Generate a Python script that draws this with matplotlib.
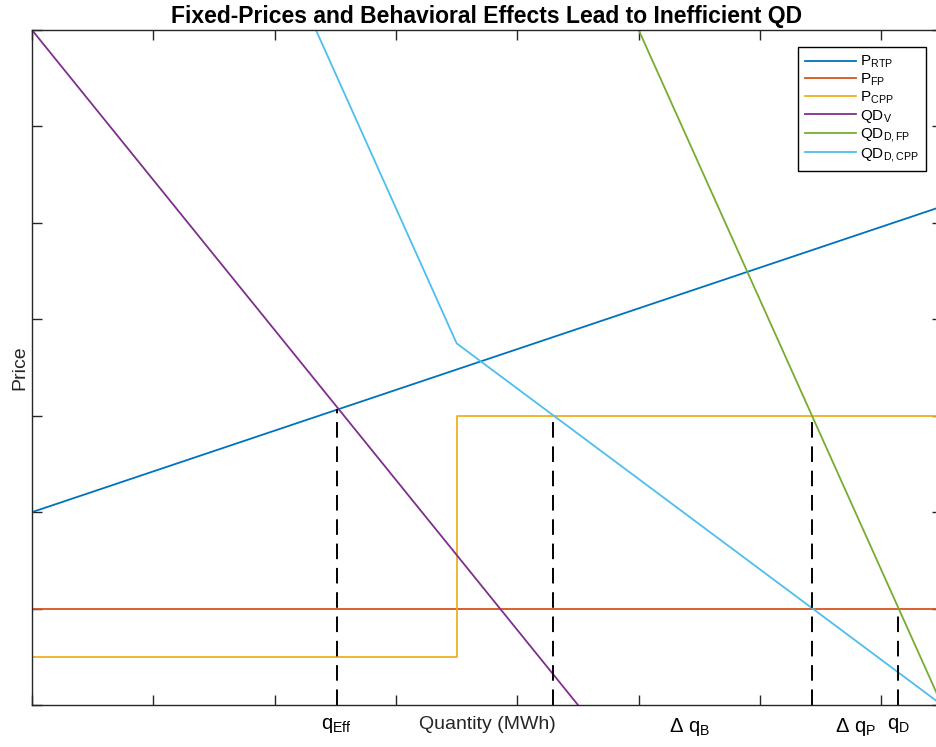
import matplotlib
matplotlib.use("Agg")
import matplotlib.pyplot as plt
import matplotlib.transforms as mtransforms
import numpy as np

## FONT SETUP ##
plt.rcParams['font.family'] = ['Liberation Sans', 'DejaVu Sans']
plt.rcParams['mathtext.fontset'] = 'custom'
plt.rcParams['mathtext.rm'] = 'Liberation Sans'
plt.rcParams['mathtext.it'] = 'Liberation Sans:italic'

## DATA ##
# Real time price (linear in quantity)
rtp_x = [0.0, 7.5]
rtp_y = [2.0, 5.17]
# Fixed price
fp_x = [0.0, 7.5]
fp_y = [1.0, 1.0]
# Critical peak price (step)
cpp_x = [0.0, 3.5, 3.5, 7.5]
cpp_y = [0.5, 0.5, 3.0, 3.0]
# Demand curves
qdv_x = [0.0, 4.5]
qdv_y = [7.0, 0.0]
qdfp_x = [5.0, 7.5]
qdfp_y = [7.0, 0.0]
qdcpp_x = [2.34, 3.5, 7.5]
qdcpp_y = [7.0, 3.75, 0.0]

# Dashed guides: quantity and price where they stop
guide_q = [2.51, 4.29, 6.43, 7.14]
guide_p = [3.07, 3.0, 3.0, 1.0]

# Labels under the axis
qlabel_x = [2.51, 5.42, 6.79, 7.14]
qlabel_txt = [r'q$_{\mathrm{Eff}}$', r'$\Delta$ q$_{\mathrm{B}}$', r'$\Delta$ q$_{\mathrm{P}}$', r'q$_{\mathrm{D}}$']

legend_labels = [r'P$_{\mathrm{RTP}}$', r'P$_{\mathrm{FP}}$', r'P$_{\mathrm{CPP}}$',
                 r'QD$_{\mathrm{V}}$', r'QD$_{\mathrm{D,FP}}$', r'QD$_{\mathrm{D,CPP}}$']
colors = ['#0072BD', '#D95319', '#EDB120', '#7E2F8E', '#77AC30', '#4DBEEE']

## PLOT ##
fig = plt.figure(figsize=(9.36, 7.47), dpi=100)
ax = fig.add_axes([32/936, 42/747, 910/936, 675/747])

lw = 1.3
ax.plot(rtp_x, rtp_y, color=colors[0], lw=lw, label=legend_labels[0])
ax.plot(fp_x, fp_y, color=colors[1], lw=lw, label=legend_labels[1])
ax.plot(cpp_x, cpp_y, color=colors[2], lw=lw, label=legend_labels[2])
ax.plot(qdv_x, qdv_y, color=colors[3], lw=lw, label=legend_labels[3])
ax.plot(qdfp_x, qdfp_y, color=colors[4], lw=lw, label=legend_labels[4])
ax.plot(qdcpp_x, qdcpp_y, color=colors[5], lw=lw, label=legend_labels[5])

for q, p in zip(guide_q, guide_p):
    ax.plot([q, q], [0, p], color='black', lw=1.4, linestyle=(0, (8, 4.5)))

ax.set_xlim(0, 7.5)
ax.set_ylim(0, 7)
ax.set_xticks(np.arange(0, 8, 1))
ax.set_yticks(np.arange(0, 8, 1))
ax.set_xticklabels([])
ax.set_yticklabels([])
ax.tick_params(direction='in', length=7, width=1, color='#262626',
               top=True, right=True)
for s in ax.spines.values():
    s.set_color('#262626')
    s.set_linewidth(1.0)

ax.set_title('Fixed-Prices and Behavioral Effects Lead to Inefficient QD',
             fontsize=16.5, fontweight='bold', pad=5)
ax.set_xlabel('Quantity (MWh)', fontsize=14, color='#262626')
ax.xaxis.set_label_coords(0.5, -0.017)
ax.set_ylabel('Price', fontsize=14, color='#262626')
ax.yaxis.set_label_coords(-0.004, 0.5)

trans = mtransforms.blended_transform_factory(ax.transData, ax.transAxes)
for x, t in zip(qlabel_x, qlabel_txt):
    ax.text(x, -0.017, t, transform=trans, ha='center', va='top', fontsize=14.5, color='black')

leg = ax.legend(loc='upper right', bbox_to_anchor=(0.9824, 0.9748), borderaxespad=0,
                fontsize=11, frameon=True, fancybox=False, framealpha=1,
                edgecolor='black', handlelength=3.3, handletextpad=0.3,
                labelspacing=0.1, borderpad=0.45)
leg.get_frame().set_linewidth(1.0)

plt.savefig('out.png', dpi=100)
